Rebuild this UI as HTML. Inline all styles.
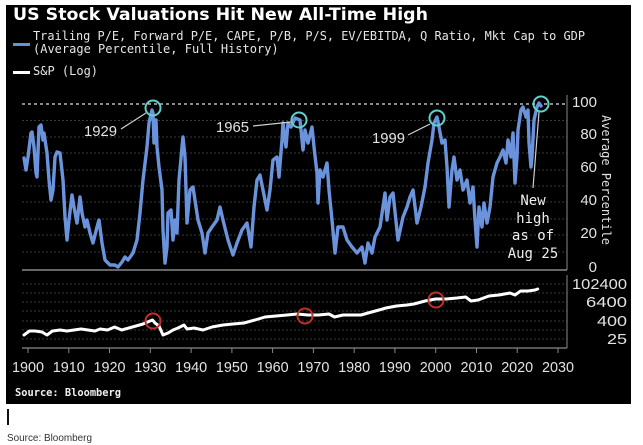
<!DOCTYPE html>
<html><head><meta charset="utf-8"><style>
html,body{margin:0;padding:0;background:#fff;width:643px;height:445px;overflow:hidden}
svg{display:block}
.ax{font-family:"Liberation Sans",sans-serif;font-size:15px;fill:#e2e2e2}
.mono{font-family:"DejaVu Sans Mono","Liberation Mono",monospace}
</style></head><body>
<svg width="643" height="445" viewBox="0 0 643 445" xmlns="http://www.w3.org/2000/svg">
<rect x="6" y="5" width="625" height="399" fill="#000"/>
<text x="13" y="20" font-family="DejaVu Sans, sans-serif" font-weight="bold" font-size="17" fill="#fff" textLength="415" lengthAdjust="spacingAndGlyphs">US Stock Valuations Hit New All-Time High</text>
<rect x="13" y="43" width="17" height="3" fill="#6690d8"/>
<text class="mono" x="33" y="40" font-size="12" fill="#e6e6e6" textLength="552" lengthAdjust="spacingAndGlyphs">Trailing P/E, Forward P/E, CAPE, P/B, P/S, EV/EBITDA, Q Ratio, Mkt Cap to GDP</text>
<text class="mono" x="33" y="53" font-size="12" fill="#e6e6e6">(Average Percentile, Full History)</text>
<rect x="13" y="71" width="17" height="3" fill="#fff"/>
<text class="mono" x="33" y="75" font-size="12" fill="#e6e6e6">S&amp;P (Log)</text>

<g stroke="#3a3a3a" stroke-width="1" stroke-dasharray="2,2">
<line x1="22" y1="120.5" x2="567" y2="120.5"/>
<line x1="22" y1="137" x2="567" y2="137"/>
<line x1="22" y1="153" x2="567" y2="153"/>
<line x1="22" y1="170" x2="567" y2="170"/>
<line x1="22" y1="186" x2="567" y2="186"/>
<line x1="22" y1="202" x2="567" y2="202"/>
<line x1="22" y1="219" x2="567" y2="219"/>
<line x1="22" y1="235" x2="567" y2="235"/>
<line x1="22" y1="252" x2="567" y2="252"/>
</g>
<line x1="22" y1="104" x2="567" y2="104" stroke="#ddd" stroke-width="1.3" stroke-dasharray="3,3"/>
<line x1="22" y1="270" x2="567" y2="270" stroke="#888" stroke-width="1.5"/>
<line x1="567" y1="95" x2="567" y2="270" stroke="#888" stroke-width="1"/>

<g class="ax" text-anchor="end">
<text x="597" y="107">100</text>
<text x="597" y="139">80</text>
<text x="597" y="172">60</text>
<text x="597" y="205">40</text>
<text x="597" y="238">20</text>
<text x="597" y="272">0</text>
</g>
<text class="mono" font-size="12" fill="#e2e2e2" text-anchor="middle" transform="translate(602,180) rotate(90)">Average Percentile</text>

<polyline fill="none" stroke="#6a93dc" stroke-width="3.4" stroke-linejoin="round" stroke-linecap="round" points="
24,158 26,170 28,157 31,133 32,132 34,147 36,173 37,177 39,127 41,125 43,140 44,133 47,153 49,180 51,200 53,190 55,157 57,152 60,153 63,180 65,217 67,240 69,220 72,195 74,207 77,223 80,197 82,213 85,227 87,220 90,233 93,243 97,227 99,220 102,243 105,260 110,265 115,265 118,267 122,262 125,257 128,260 133,253 137,240 140,213 143,180 147,147 149,123 152,110 153,113 154,143 156,120 157,147 159,167 162,190 163,230 165,263 167,247 168,213 171,210 173,240 175,220 177,233 179,180 182,147 183,137 185,157 187,223 190,190 193,187 196,207 198,220
202,233 205,253 208,233 212,227 217,220 220,207 223,220 228,240 233,255 237,243 242,230 247,223 251,247 254,207 257,180 260,175 263,190 267,210 270,190 273,160 277,157 279,177 282,140 283,123 286,147 288,123 291,127 295,118 300,120 303,150 305,130 308,143 312,127 314,147 317,173 318,203 320,170 323,177 327,163 329,190 332,220 335,253 338,227 343,227 347,240 352,247 357,253 362,247 365,263 368,243 372,253 375,237 380,227 385,193 387,220 390,197 393,193 398,240 403,217 407,207 410,197 413,190 417,223 421,207 425,187 428,163 432,140 434,123 437,117 439,127 442,143 445,140 447,167 449,207 452,170 454,157 457,180 460,170 463,190 467,180 470,203 473,187 475,220 477,247 479,207 482,227 484,203 487,223 490,207 493,177 497,163 500,157
503,150 506,163 508,140 511,157 513,133 515,183 517,157 518,130 521,110 523,107 526,117 528,110 529,143 531,167 532,157 534,120 537,107 539,103 541,106"/>

<g fill="none" stroke="#5fd0cc" stroke-width="2">
<circle cx="153" cy="108" r="7.5"/>
<circle cx="299" cy="120" r="7.5"/>
<circle cx="437" cy="118" r="7.5"/>
<circle cx="541" cy="104" r="7.5"/>
</g>
<g stroke="#cfcfcf" stroke-width="1.2">
<line x1="121" y1="129" x2="146" y2="113"/>
<line x1="253" y1="126" x2="291" y2="122"/>
<line x1="408" y1="135" x2="430" y2="124"/>
<line x1="539" y1="112" x2="533" y2="188"/>
</g>
<g class="ax" fill="#eee">
<text x="84" y="136" textLength="33" lengthAdjust="spacingAndGlyphs">1929</text>
<text x="216" y="132" textLength="33" lengthAdjust="spacingAndGlyphs">1965</text>
<text x="372" y="143" textLength="33" lengthAdjust="spacingAndGlyphs">1999</text>
</g>
<g class="mono" font-size="14" fill="#eee" text-anchor="middle">
<text x="533" y="205">New</text>
<text x="533" y="223">high</text>
<text x="533" y="240">as of</text>
<text x="533" y="258">Aug 25</text>
</g>

<g stroke="#3a3a3a" stroke-width="1" stroke-dasharray="2,2">
<line x1="22" y1="284" x2="567" y2="284"/>
<line x1="22" y1="293" x2="567" y2="293"/>
<line x1="22" y1="302" x2="567" y2="302"/>
<line x1="22" y1="311" x2="567" y2="311"/>
<line x1="22" y1="321" x2="567" y2="321"/>
<line x1="22" y1="330" x2="567" y2="330"/>
<line x1="22" y1="339" x2="567" y2="339"/>
</g>
<line x1="567" y1="275" x2="567" y2="348" stroke="#888" stroke-width="1"/>
<line x1="22" y1="348" x2="567" y2="348" stroke="#888" stroke-width="1.3"/>
<g stroke="#888" stroke-width="1">
<line x1="28" y1="348" x2="28" y2="353"/>
<line x1="68.8" y1="348" x2="68.8" y2="353"/>
<line x1="109.5" y1="348" x2="109.5" y2="353"/>
<line x1="150.3" y1="348" x2="150.3" y2="353"/>
<line x1="191.1" y1="348" x2="191.1" y2="353"/>
<line x1="231.9" y1="348" x2="231.9" y2="353"/>
<line x1="272.6" y1="348" x2="272.6" y2="353"/>
<line x1="313.4" y1="348" x2="313.4" y2="353"/>
<line x1="354.2" y1="348" x2="354.2" y2="353"/>
<line x1="394.9" y1="348" x2="394.9" y2="353"/>
<line x1="435.7" y1="348" x2="435.7" y2="353"/>
<line x1="476.5" y1="348" x2="476.5" y2="353"/>
<line x1="517.2" y1="348" x2="517.2" y2="353"/>
<line x1="558" y1="348" x2="558" y2="353"/>
</g>
<g class="ax" text-anchor="end">
<text x="627" y="289" textLength="55" lengthAdjust="spacingAndGlyphs">102400</text>
<text x="627" y="307" textLength="41" lengthAdjust="spacingAndGlyphs">6400</text>
<text x="627" y="326" textLength="30" lengthAdjust="spacingAndGlyphs">400</text>
<text x="627" y="344" textLength="20" lengthAdjust="spacingAndGlyphs">25</text>
</g>

<polyline fill="none" stroke="#fff" stroke-width="3" stroke-linejoin="round" stroke-linecap="round" points="
24,335 29.5,331 35,331 42,332 47,335 52.5,331 60,330 67,331 74,330 81,329 88,330 95,331 100,329 107.5,330 114.6,327 121.7,330 128.8,328 136,326 143,324 150,321 152.5,320 155,323 159,326 163,335 168,333 173,330 178,328 184,325 187,329 194,328 203,330 212,327 223,325 233,324 244,323 255,320 265,317 276,316 287,315 297,314 308,315 318.5,315 329,314 334.5,317 343,315 354,315 361,315 368,313 379,310 386,308 396.5,306 407,305 414,304 425,301 435.5,299 446,299 457,298 465.7,297 471,301 478,300 489,296 499,295 510,293 515,295 520.6,291 528,291 535,290 537.7,289"/>
<g fill="none" stroke="#c0302a" stroke-width="2">
<circle cx="153" cy="321" r="7.5"/>
<circle cx="305" cy="316" r="7.5"/>
<circle cx="436" cy="300" r="7.5"/>
</g>

<g class="ax" text-anchor="middle" font-size="16">
<text x="28" y="372" textLength="32" lengthAdjust="spacingAndGlyphs">1900</text>
<text x="68.8" y="372" textLength="32" lengthAdjust="spacingAndGlyphs">1910</text>
<text x="109.5" y="372" textLength="32" lengthAdjust="spacingAndGlyphs">1920</text>
<text x="150.3" y="372" textLength="32" lengthAdjust="spacingAndGlyphs">1930</text>
<text x="191.1" y="372" textLength="32" lengthAdjust="spacingAndGlyphs">1940</text>
<text x="231.9" y="372" textLength="32" lengthAdjust="spacingAndGlyphs">1950</text>
<text x="272.6" y="372" textLength="32" lengthAdjust="spacingAndGlyphs">1960</text>
<text x="313.4" y="372" textLength="32" lengthAdjust="spacingAndGlyphs">1970</text>
<text x="354.2" y="372" textLength="32" lengthAdjust="spacingAndGlyphs">1980</text>
<text x="394.9" y="372" textLength="32" lengthAdjust="spacingAndGlyphs">1990</text>
<text x="435.7" y="372" textLength="32" lengthAdjust="spacingAndGlyphs">2000</text>
<text x="476.5" y="372" textLength="32" lengthAdjust="spacingAndGlyphs">2010</text>
<text x="517.2" y="372" textLength="32" lengthAdjust="spacingAndGlyphs">2020</text>
<text x="558" y="372" textLength="32" lengthAdjust="spacingAndGlyphs">2030</text>
</g>
<text class="mono" x="15" y="396" font-size="10.5" font-weight="bold" fill="#f0f0f0" textLength="106" lengthAdjust="spacingAndGlyphs">Source: Bloomberg</text>

<rect x="7" y="409" width="2" height="16" fill="#111"/>
<text x="7" y="441" font-family="Liberation Sans, sans-serif" font-size="10.5" fill="#333" textLength="85" lengthAdjust="spacingAndGlyphs">Source: Bloomberg</text>
</svg>
</body></html>
